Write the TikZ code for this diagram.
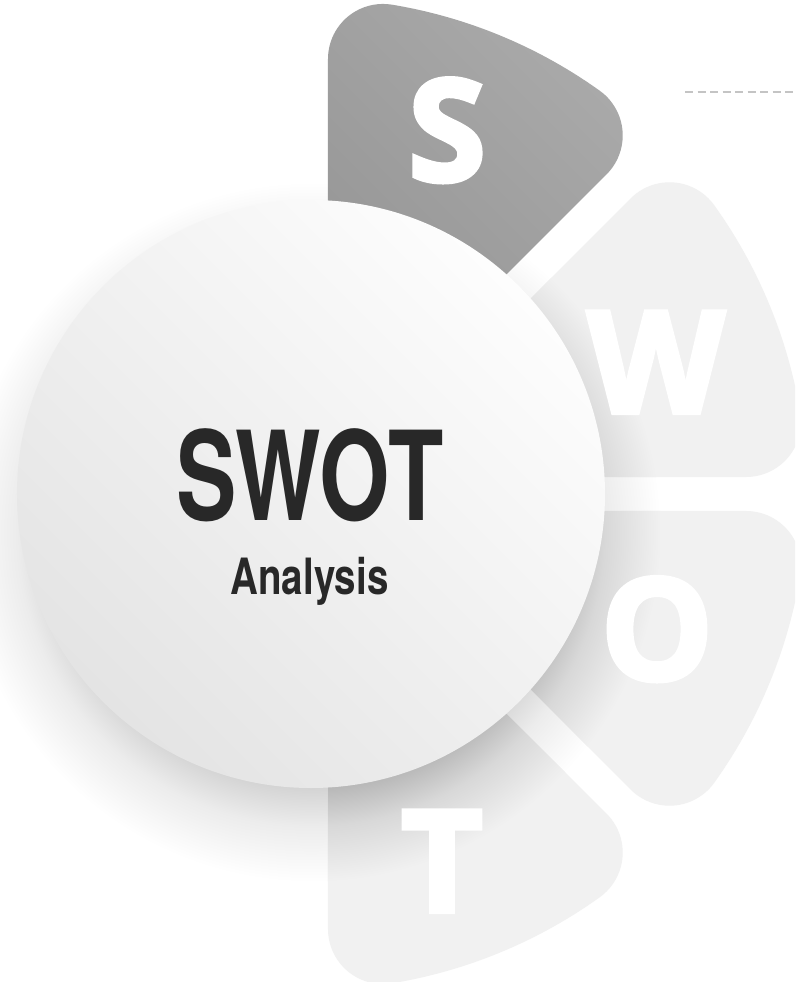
\documentclass[tikz,border=0pt]{standalone}
\usepackage{fontspec}
\setmainfont{TeX Gyre Heros}
\newfontfamily\petalfont{Open Sans}[BoldFeatures={FakeBold=3}]
\definecolor{petal}{HTML}{F1F1F1}
\definecolor{sTop}{HTML}{A9A9A9}
\definecolor{sBot}{HTML}{939393}
\definecolor{cTop}{HTML}{FDFDFD}
\definecolor{cBot}{HTML}{E4E4E4}
\definecolor{ink}{HTML}{282828}
\definecolor{dashc}{HTML}{C4C4C4}
\definecolor{pdark}{HTML}{B8B8B8}
\definecolor{pmid}{HTML}{D8D8D8}
\definecolor{bdark}{HTML}{D4D4D4}
\definecolor{bmid}{HTML}{ECECEC}
\pgfdeclareradialshading{pshadow}{\pgfpoint{0bp}{0bp}}{color(0bp)=(pdark); color(18.3bp)=(pdark); color(21bp)=(pmid); color(25bp)=(petal); color(50bp)=(petal)}
\pgfdeclareradialshading{bshadow}{\pgfpoint{0bp}{0bp}}{color(0bp)=(bdark); color(18.3bp)=(bdark); color(21bp)=(bmid); color(25bp)=(white); color(50bp)=(white)}
% one petal of the ring, #1 = direction of its bisector
\newcommand\petal[1]{({#1}:44.4pt) -- ({#1+20.262}:435.41pt)
  arc[start angle={#1+112.5}, end angle={#1+13.103}, radius=55pt]
  arc[start angle={#1+13.103}, end angle={#1-13.103}, radius=496pt]
  arc[start angle={#1-13.103}, end angle={#1-112.5}, radius=55pt] -- cycle }
\begin{document}
\begin{tikzpicture}[x=1pt,y=1pt,
  petalS/.style={top color=sTop, bottom color=sBot, shading angle=-45},
  hubc/.style={circle, inner sep=0pt, minimum size=588pt, top color=cTop, bottom color=cBot, shading angle=-45},
  letter/.style={text=white, inner sep=0pt, anchor=base, font=\petalfont\bfseries\fontsize{142}{142}\selectfont},
  title/.style={text=ink, inner sep=0pt, anchor=base, font=\bfseries\fontsize{124}{124}\selectfont},
  subtitle/.style={text=ink, inner sep=0pt, anchor=base, font=\bfseries\fontsize{50}{50}\selectfont},
  dashline/.style={draw=dashc, line width=1.3pt, dash pattern=on 8pt off 4.5pt}]
\useasboundingbox (-311,-488) rectangle (484,494);
\clip (-311,-488) rectangle (484,494);
\fill[white] (-311,-488) rectangle (484,494);
\shade[shading=bshadow] (0,-38) circle (350pt);
\shade[petalS] \petal{67.5};
\fill[petal] \petal{22.5} \petal{-22.5} \petal{-67.5};
\begin{scope}
  \clip \petal{22.5} \petal{-22.5} \petal{-67.5};
  \shade[shading=pshadow] (0,-38) circle (350pt);
\end{scope}
\node[hubc] (hub) at (0,0) {};
\node[title] (swot) at (-1,-27) {\scalebox{0.73}[1]{SWOT}};
\node[subtitle] (analysis) at (-1.5,-100) {\scalebox{0.77}[1]{Analysis}};
\node[letter] (S) at (136,313) {S};
\node[letter] (W) at (345,81) {W};
\node[letter] (O) at (346,-186) {O};
\node[letter] (T) at (131,-418) {T};
\coordinate (dA) at (374,402);
\coordinate (dB) at (484,402);
\draw[dashline] (dA) -- (dB);
\end{tikzpicture}
\end{document}
